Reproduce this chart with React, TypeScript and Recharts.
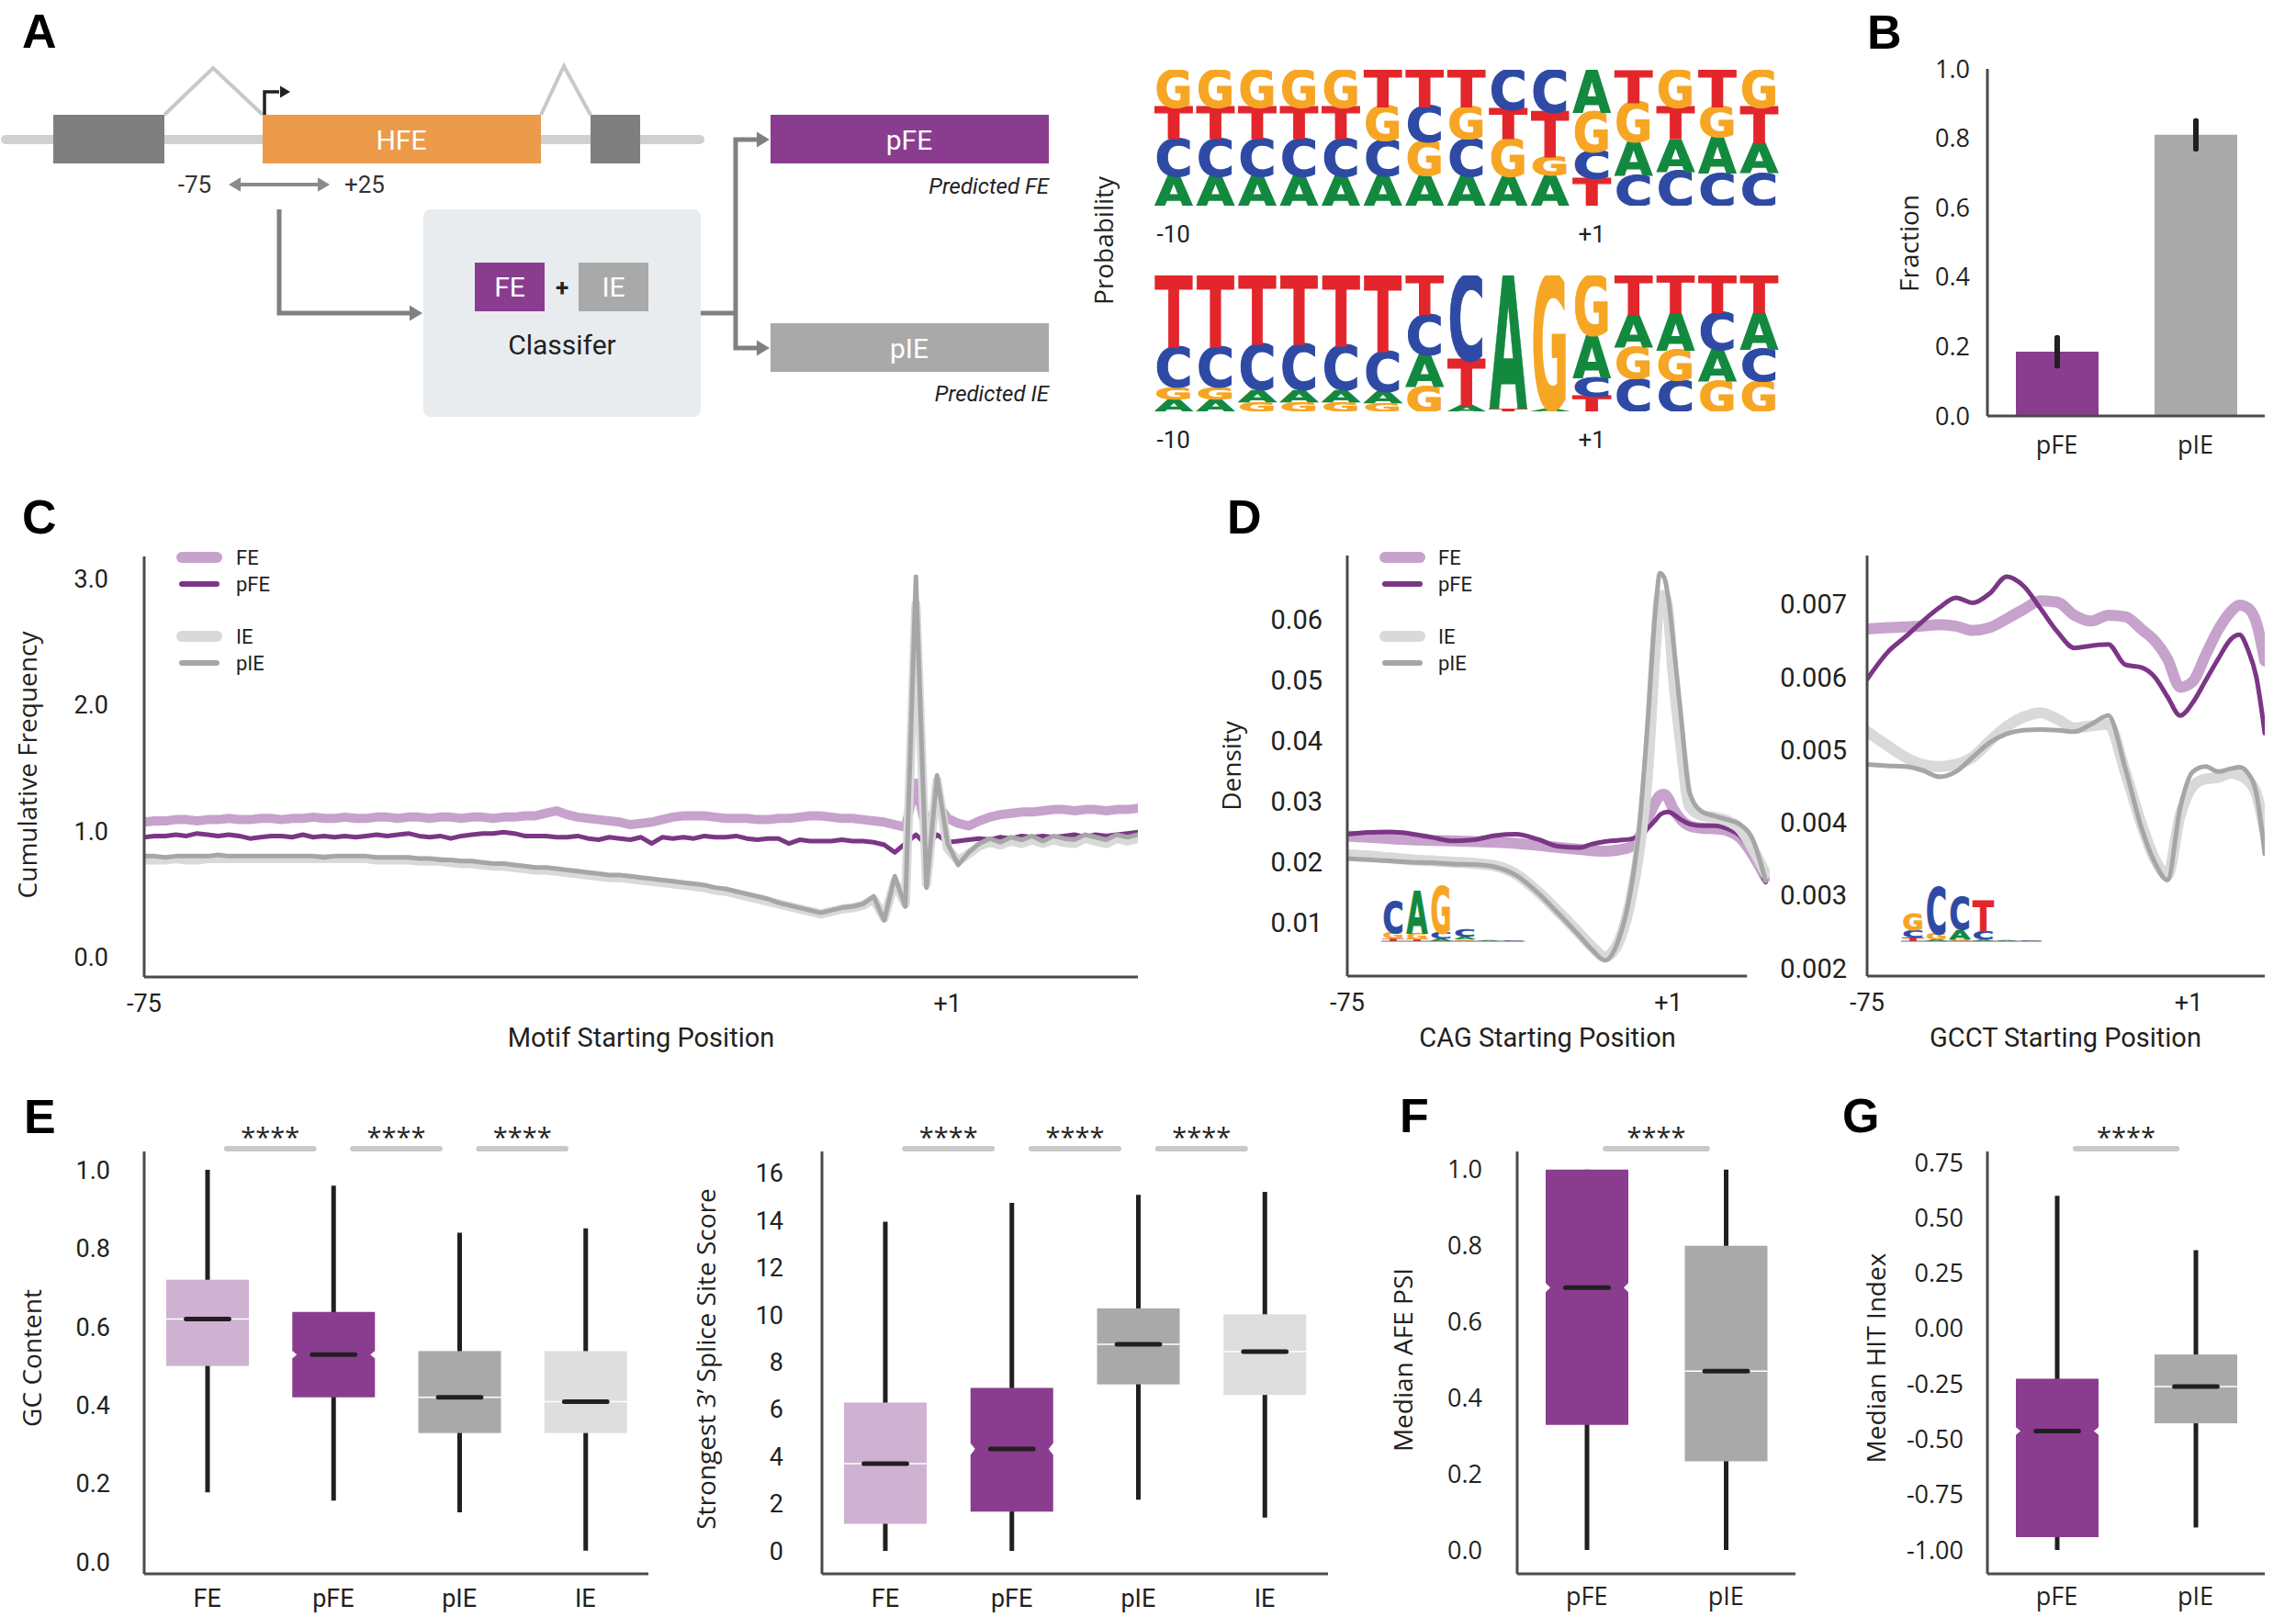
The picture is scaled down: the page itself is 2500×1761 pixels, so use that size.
import React from 'react';
import {
  BarChart, Bar, LineChart, Line, XAxis, YAxis, ErrorBar, Cell, ReferenceLine,
} from 'recharts';

// colours and fonts
const INK = '#231f20';
const AXIS = '#4b4b4b';
const PURPLE = '#8a3d8e';
const LILAC = '#cfb2d2';
const GREY = '#a9a9a9';
const PALE = '#dedede';
const FE_LINE = '#c6a2cc';
const PFE_LINE = '#7b3685';
const IE_LINE = '#d9d9d9';
const PIE_LINE = '#a6a6a6';
const NARROW = "Roboto, 'Liberation Sans', sans-serif";
const SANS = "'Open Sans', 'Noto Sans', sans-serif";
const BOLD = "'Liberation Sans', Arial, sans-serif";
const BASE_COLORS: Record<string, string> = { A: '#13893f', C: '#2f4aa4', G: '#f6a624', T: '#e3262b' };

// ---- A: sequence logos (letters listed top to bottom)
const logoPositions = ['-10', '-9', '-8', '-7', '-6', '-5', '-4', '-3', '-2', '-1', '+1', '+2', '+3', '+4', '+5'];
const feLetters = ['GTCA', 'GTCA', 'GTCA', 'GTCA', 'GTCA', 'TGCA', 'TCGA', 'TGCA', 'CTGA', 'CTGA', 'AGCT', 'TGAC', 'GTAC', 'TGAC', 'GTAC'];
const feProbs = [
  [0.27, 0.24, 0.27, 0.22], [0.27, 0.24, 0.27, 0.22], [0.27, 0.24, 0.27, 0.22], [0.27, 0.24, 0.27, 0.22],
  [0.27, 0.24, 0.27, 0.22], [0.27, 0.25, 0.26, 0.22], [0.27, 0.26, 0.25, 0.22], [0.27, 0.24, 0.27, 0.22],
  [0.29, 0.22, 0.27, 0.22], [0.31, 0.33, 0.14, 0.22], [0.31, 0.29, 0.20, 0.20], [0.24, 0.29, 0.25, 0.22],
  [0.27, 0.24, 0.24, 0.25], [0.27, 0.22, 0.27, 0.24], [0.27, 0.27, 0.22, 0.24],
];
const ieLetters = ['TCGA', 'TCGA', 'TCAG', 'TCAG', 'TCAG', 'TCAG', 'TCAG', 'CTA', 'AT', 'GA', 'GACT', 'TAGC', 'TAGC', 'TCAG', 'TACG'];
const ieProbs = [
  [0.53, 0.29, 0.09, 0.09], [0.53, 0.29, 0.09, 0.09], [0.51, 0.33, 0.09, 0.07], [0.51, 0.33, 0.09, 0.07],
  [0.52, 0.32, 0.09, 0.07], [0.56, 0.29, 0.09, 0.06], [0.29, 0.29, 0.24, 0.18], [0.62, 0.34, 0.04],
  [0.98, 0.02], [0.98, 0.02], [0.44, 0.31, 0.14, 0.11], [0.29, 0.24, 0.23, 0.24],
  [0.28, 0.27, 0.22, 0.23], [0.27, 0.27, 0.24, 0.22], [0.27, 0.27, 0.24, 0.22],
];

// ---- D: small motif insets (bits)
const insetPositions = ['1', '2', '3', '4', '5', '6'];
const cagLetters = ['CGT', 'AGT', 'GCA', 'CAG', 'A', 'C'];
const cagBits = [[1.1, 0.2, 0.1], [1.5, 0.2, 0.08], [1.65, 0.2, 0.1], [0.25, 0.1, 0.05], [0.04], [0.03]];
const gcctLetters = ['GCT', 'CGA', 'CAG', 'TCA', 'A', 'C'];
const gcctBits = [[0.6, 0.27, 0.13], [1.67, 0.2, 0.07], [1.13, 0.33, 0.08], [1.07, 0.3, 0.06], [0.04], [0.03]];

// ---- B
const fractionGroups = ['pFE', 'pIE'];
const fractionValues = [0.185, 0.81];
const fractionErrors = [0.04, 0.04];

// ---- C: cumulative motif frequency, positions -75..+19
const motifPositions = Array.from({ length: 95 }, (_, i) => i - 75);
const cumFE = [
  1.07, 1.08, 1.08, 1.09, 1.09, 1.08, 1.09, 1.09, 1.10, 1.09,
  1.09, 1.10, 1.10, 1.09, 1.10, 1.10, 1.11, 1.10, 1.10, 1.11,
  1.10, 1.10, 1.11, 1.11, 1.10, 1.11, 1.11, 1.10, 1.11, 1.11,
  1.10, 1.11, 1.11, 1.10, 1.11, 1.11, 1.12, 1.12, 1.14, 1.16,
  1.13, 1.11, 1.10, 1.09, 1.08, 1.07, 1.05, 1.06, 1.07, 1.09,
  1.11, 1.12, 1.12, 1.12, 1.11, 1.10, 1.10, 1.10, 1.09, 1.09,
  1.10, 1.10, 1.11, 1.12, 1.12, 1.11, 1.10, 1.10, 1.09, 1.08,
  1.07, 1.05, 1.03, 1.38, 0.99, 1.22, 1.10, 1.06, 1.04, 1.08,
  1.11, 1.13, 1.14, 1.15, 1.15, 1.16, 1.17, 1.17, 1.16, 1.17,
  1.17, 1.16, 1.17, 1.17, 1.18,
];
const cumPFE = [
  0.95, 0.96, 0.96, 0.97, 0.96, 0.98, 0.97, 0.96, 0.97, 0.96,
  0.94, 0.95, 0.96, 0.96, 0.95, 0.97, 0.95, 0.96, 0.95, 0.96,
  0.95, 0.96, 0.97, 0.96, 0.97, 0.98, 0.96, 0.95, 0.96, 0.94,
  0.96, 0.97, 0.98, 0.98, 0.99, 0.98, 0.96, 0.96, 0.96, 0.95,
  0.95, 0.96, 0.94, 0.93, 0.95, 0.94, 0.93, 0.95, 0.90, 0.95,
  0.94, 0.95, 0.94, 0.96, 0.95, 0.95, 0.96, 0.94, 0.93, 0.94,
  0.94, 0.90, 0.93, 0.92, 0.92, 0.92, 0.93, 0.92, 0.92, 0.91,
  0.89, 0.83, 0.90, 0.97, 0.89, 0.97, 0.91, 0.92, 0.93, 0.94,
  0.93, 0.95, 0.94, 0.96, 0.95, 0.96, 0.95, 0.96, 0.97, 0.95,
  0.97, 0.96, 0.97, 0.98, 0.99,
];
const cumIE = [
  0.77, 0.77, 0.77, 0.78, 0.77, 0.77, 0.78, 0.78, 0.78, 0.78,
  0.78, 0.78, 0.78, 0.78, 0.78, 0.78, 0.78, 0.78, 0.78, 0.78,
  0.78, 0.78, 0.77, 0.77, 0.77, 0.77, 0.76, 0.76, 0.76, 0.75,
  0.74, 0.74, 0.73, 0.72, 0.72, 0.71, 0.70, 0.69, 0.69, 0.68,
  0.67, 0.66, 0.65, 0.64, 0.63, 0.63, 0.62, 0.61, 0.60, 0.59,
  0.58, 0.57, 0.56, 0.55, 0.53, 0.52, 0.50, 0.48, 0.46, 0.44,
  0.42, 0.40, 0.38, 0.36, 0.34, 0.36, 0.38, 0.39, 0.41, 0.46,
  0.31, 0.60, 0.42, 2.80, 0.58, 1.40, 0.86, 0.76, 0.82, 0.88,
  0.91, 0.89, 0.92, 0.90, 0.93, 0.90, 0.93, 0.91, 0.90, 0.94,
  0.92, 0.90, 0.94, 0.92, 0.94,
];
const cumPIE = [
  0.80, 0.80, 0.79, 0.80, 0.80, 0.80, 0.80, 0.81, 0.80, 0.80,
  0.80, 0.80, 0.80, 0.80, 0.80, 0.80, 0.80, 0.79, 0.80, 0.80,
  0.80, 0.80, 0.79, 0.79, 0.79, 0.79, 0.78, 0.78, 0.77, 0.77,
  0.76, 0.76, 0.75, 0.74, 0.74, 0.73, 0.72, 0.71, 0.71, 0.70,
  0.69, 0.68, 0.67, 0.66, 0.65, 0.65, 0.64, 0.63, 0.62, 0.61,
  0.60, 0.59, 0.58, 0.57, 0.55, 0.54, 0.52, 0.50, 0.48, 0.46,
  0.43, 0.41, 0.39, 0.37, 0.35, 0.37, 0.39, 0.40, 0.42, 0.48,
  0.29, 0.64, 0.40, 3.02, 0.55, 1.44, 0.90, 0.73, 0.83, 0.90,
  0.94, 0.91, 0.95, 0.93, 0.96, 0.92, 0.96, 0.94, 0.93, 0.97,
  0.95, 0.93, 0.97, 0.95, 0.97,
];

// ---- D: density of CAG / GCCT start positions
const cagPositions = [-75, -70, -65, -60, -55, -50, -45, -40, -35, -30, -25, -20, -17, -14, -11, -8, -6, -4, -2, -1, 0, 1, 2, 4, 6, 9, 12, 15, 18, 21, 24];
const cagFE = [0.0243, 0.0241, 0.0239, 0.0237, 0.0236, 0.0235, 0.0234, 0.0233, 0.0231, 0.0228, 0.0224, 0.0221, 0.0219, 0.0218, 0.0220, 0.0225, 0.0240, 0.0270, 0.0300, 0.0310, 0.0312, 0.0305, 0.0290, 0.0270, 0.0260, 0.0256, 0.0255, 0.0252, 0.0240, 0.0212, 0.0175];
const cagPFE = [0.0246, 0.0249, 0.0250, 0.0247, 0.0241, 0.0235, 0.0237, 0.0244, 0.0246, 0.0238, 0.0226, 0.0224, 0.0230, 0.0234, 0.0236, 0.0238, 0.0243, 0.0255, 0.0270, 0.0278, 0.0282, 0.0283, 0.0280, 0.0270, 0.0263, 0.0260, 0.0260, 0.0255, 0.0243, 0.0212, 0.0167];
const cagIE = [0.0212, 0.0210, 0.0207, 0.0204, 0.0202, 0.0200, 0.0198, 0.0194, 0.0180, 0.0152, 0.0118, 0.0082, 0.0060, 0.0044, 0.0065, 0.0135, 0.0215, 0.0340, 0.0560, 0.0640, 0.0640, 0.0610, 0.0520, 0.0390, 0.0292, 0.0277, 0.0274, 0.0268, 0.0255, 0.0222, 0.0181];
const cagPIE = [0.0206, 0.0204, 0.0202, 0.0200, 0.0199, 0.0197, 0.0196, 0.0192, 0.0178, 0.0150, 0.0115, 0.0078, 0.0055, 0.0038, 0.0068, 0.0150, 0.0250, 0.0420, 0.0620, 0.0677, 0.0670, 0.0635, 0.0575, 0.0440, 0.0315, 0.0283, 0.0276, 0.0270, 0.0262, 0.0237, 0.0169];

const gcctPositions = [-75, -70, -66, -62, -58, -54, -50, -46, -42, -38, -34, -30, -26, -22, -18, -14, -10, -7, -4, -1, 2, 5, 8, 11, 13, 15, 17, 19];
const gcctFE = [0.00666, 0.00668, 0.00669, 0.00670, 0.00672, 0.00670, 0.00664, 0.00668, 0.00680, 0.00693, 0.00705, 0.00703, 0.00685, 0.00677, 0.00685, 0.00683, 0.00665, 0.00650, 0.00625, 0.00586, 0.00594, 0.00630, 0.00665, 0.00690, 0.00699, 0.00695, 0.00675, 0.00622];
const gcctPFE = [0.00597, 0.00635, 0.00655, 0.00676, 0.00695, 0.00709, 0.00702, 0.00715, 0.00738, 0.00725, 0.00694, 0.00662, 0.00640, 0.00643, 0.00645, 0.00617, 0.00613, 0.00600, 0.00573, 0.00547, 0.00565, 0.00595, 0.00625, 0.00652, 0.00658, 0.00638, 0.00600, 0.00523];
const gcctIE = [0.00525, 0.00505, 0.00490, 0.00480, 0.00477, 0.00480, 0.00490, 0.00512, 0.00532, 0.00545, 0.00551, 0.00542, 0.00530, 0.00533, 0.00535, 0.00470, 0.00395, 0.00350, 0.00328, 0.00410, 0.00450, 0.00460, 0.00462, 0.00468, 0.00465, 0.00458, 0.00440, 0.00388];
const gcctPIE = [0.00480, 0.00478, 0.00477, 0.00472, 0.00463, 0.00470, 0.00490, 0.00510, 0.00522, 0.00527, 0.00528, 0.00527, 0.00525, 0.00535, 0.00547, 0.00475, 0.00390, 0.00345, 0.00321, 0.00420, 0.00470, 0.00477, 0.00470, 0.00474, 0.00476, 0.00468, 0.00440, 0.00357];

// ---- E: GC content and 3' splice site score
const exonGroups = ['FE', 'pFE', 'pIE', 'IE'];
const exonColors = [LILAC, PURPLE, GREY, PALE];
const gcLow = [0.178, 0.157, 0.127, 0.029];
const gcQ1 = [0.50, 0.42, 0.329, 0.329];
const gcMedian = [0.62, 0.529, 0.42, 0.409];
const gcQ3 = [0.72, 0.638, 0.538, 0.538];
const gcHigh = [1.0, 0.96, 0.84, 0.851];
const gcNotch = [0, 0.01, 0, 0];

const ssLow = [0, 0, 2.17, 1.41];
const ssQ1 = [1.15, 1.67, 7.06, 6.61];
const ssMedian = [3.70, 4.32, 8.76, 8.45];
const ssQ3 = [6.29, 6.91, 10.28, 10.03];
const ssHigh = [13.95, 14.75, 15.09, 15.22];
const ssNotch = [0, 0.25, 0, 0];

// ---- F, G
const predGroups = ['pFE', 'pIE'];
const predColors = [PURPLE, GREY];
const psiLow = [0, 0];
const psiQ1 = [0.329, 0.233];
const psiMedian = [0.69, 0.47];
const psiQ3 = [1.0, 0.80];
const psiHigh = [1.0, 1.0];
const psiNotch = [0.012, 0];

const hitLow = [-1.0, -0.899];
const hitQ1 = [-0.942, -0.428];
const hitMedian = [-0.463, -0.262];
const hitQ3 = [-0.227, -0.117];
const hitHigh = [0.60, 0.354];
const hitNotch = [0.018, 0];

type Rect = { left: number; top: number; right: number; bottom: number };
const PAD_T = 20;
const PAD_R = 24;
const X_H = 70;
const axisStyle = { stroke: AXIS, strokeWidth: 3 };
const posLabel = (v: number) => (v > 0 ? `+${v}` : `${v}`);
const marginFor = (padT: number) => ({ top: padT, right: PAD_R, left: 0, bottom: 0 });

function Frame({ plot, yWidth, padT = PAD_T, children }: { plot: Rect; yWidth: number; padT?: number; children: (w: number, h: number) => React.ReactNode }) {
  const w = yWidth + plot.right - plot.left + PAD_R;
  const h = padT + plot.bottom - plot.top + X_H;
  return (
    <div style={{ position: 'absolute', left: plot.left - yWidth, top: plot.top - padT, width: w, height: h }}>
      {children(w, h)}
    </div>
  );
}

// one stacked letter, sized so its cap height fills the bar
function Letter(props: any) {
  const { x, y, width, height, letter } = props;
  if (!letter || !(height > 0.3)) return null;
  const color = BASE_COLORS[letter];
  return (
    <text
      x={x + 0.5}
      y={y + height}
      fontSize={height / 0.729}
      fontFamily="'DejaVu Sans', sans-serif"
      fontWeight="bold"
      fill={color}
      stroke={color}
      strokeWidth={Math.min(1.2, height / 20)}
      textLength={Math.max(width - 1, 1)}
      lengthAdjust="spacingAndGlyphs"
    >
      {letter}
    </text>
  );
}

function Logo({ plot, positions, letters, heights, max, labels, baseline, gap }: any) {
  const rows = positions.map((pos: string, i: number) => {
    const row: any = { pos };
    const col: string = letters[i];
    for (let k = 0; k < 4; k++) {
      const idx = col.length - 1 - k;
      row[`h${k}`] = idx >= 0 ? heights[i][idx] : 0;
      row[`l${k}`] = idx >= 0 ? col[idx] : '';
    }
    return row;
  });
  const padT = 60;
  return (
    <Frame plot={plot} yWidth={0} padT={padT}>
      {(w, h) => (
        <BarChart width={w} height={h} data={rows} margin={marginFor(padT)} barCategoryGap={gap}>
          <XAxis
            dataKey="pos" height={X_H} interval={0} tickLine={false} tickSize={0} tickMargin={22}
            axisLine={baseline ? { stroke: '#666', strokeWidth: 1 } : false}
            tickFormatter={(v: string) => (labels.includes(v) ? v : '')}
            tick={{ fontSize: 26, fontFamily: NARROW, fill: INK }}
          />
          <YAxis hide domain={[0, max]} allowDataOverflow />
          {[0, 1, 2, 3].map((k) => (
            <Bar
              key={k} dataKey={`h${k}`} stackId="s" isAnimationActive={false}
              shape={(p: any) => <Letter {...p} letter={p.payload[`l${k}`]} />}
            />
          ))}
        </BarChart>
      )}
    </Frame>
  );
}

function FractionPanel() {
  const plot = { left: 2164, top: 75, right: 2466, bottom: 453 };
  const rows = fractionGroups.map((name, i) => ({ name, value: fractionValues[i], err: fractionErrors[i] }));
  const colors = [PURPLE, GREY];
  return (
    <Frame plot={plot} yWidth={120}>
      {(w, h) => (
        <BarChart width={w} height={h} data={rows} margin={marginFor(PAD_T)}>
          <XAxis dataKey="name" height={X_H} tickLine={false} tickSize={0} tickMargin={22} axisLine={axisStyle} tick={{ fontSize: 27, fontFamily: SANS, fill: INK }} />
          <YAxis
            width={120} type="number" domain={[0, 1]} ticks={[0, 0.2, 0.4, 0.6, 0.8, 1]} interval={0}
            tickFormatter={(v: number) => v.toFixed(1)} tickLine={false} tickSize={0} tickMargin={19}
            axisLine={axisStyle} tick={{ fontSize: 27, fontFamily: SANS, fill: INK }}
          />
          <Bar dataKey="value" barSize={90} isAnimationActive={false}>
            {rows.map((r, i) => <Cell key={r.name} fill={colors[i]} />)}
            <ErrorBar dataKey="err" direction="y" width={0} stroke={INK} strokeWidth={6} strokeLinecap="round" />
          </Bar>
        </BarChart>
      )}
    </Frame>
  );
}

function ProfilePanel({ plot, rows, yDomain, yTicks, yDigits, yGap, yFont, xDomain, axisEnd, curve, thick }: any) {
  return (
    <Frame plot={plot} yWidth={140}>
      {(w, h) => (
        <LineChart width={w} height={h} data={rows} margin={marginFor(PAD_T)}>
          <XAxis
            type="number" dataKey="pos" domain={xDomain} ticks={[-75, 1]} interval={0} tickFormatter={posLabel}
            allowDataOverflow height={X_H} tickLine={false} tickSize={0} tickMargin={19}
            axisLine={axisEnd === undefined ? axisStyle : false} tick={{ fontSize: 27, fontFamily: NARROW, fill: INK }}
          />
          <YAxis
            width={140} type="number" domain={yDomain} ticks={yTicks} interval={0}
            tickFormatter={(v: number) => v.toFixed(yDigits)} allowDataOverflow tickLine={false} tickSize={0}
            tickMargin={yGap} axisLine={axisStyle} tick={{ fontSize: yFont, fontFamily: NARROW, fill: INK }}
          />
          {axisEnd !== undefined && (
            <ReferenceLine segment={[{ x: xDomain[0], y: yDomain[0] }, { x: axisEnd, y: yDomain[0] }]} stroke={AXIS} strokeWidth={3} />
          )}
          <Line dataKey="fe" type={curve} stroke={FE_LINE} strokeWidth={thick} dot={false} isAnimationActive={false} strokeLinejoin="round" strokeLinecap="round" />
          <Line dataKey="pfe" type={curve} stroke={PFE_LINE} strokeWidth={5} dot={false} isAnimationActive={false} strokeLinejoin="round" strokeLinecap="round" />
          <Line dataKey="ie" type={curve} stroke={IE_LINE} strokeWidth={thick} dot={false} isAnimationActive={false} strokeLinejoin="round" strokeLinecap="round" />
          <Line dataKey="pie" type={curve} stroke={PIE_LINE} strokeWidth={5} dot={false} isAnimationActive={false} strokeLinejoin="round" strokeLinecap="round" />
        </LineChart>
      )}
    </Frame>
  );
}

function BoxShape(props: any) {
  const { x, y, width, height, payload } = props;
  const top = Math.min(y, y + height);
  const span = Math.abs(height);
  const { low, high, q1, median, q3, notch, color } = payload;
  const toY = (v: number) => top + (span * (high - v)) / (high - low);
  const cx = x + width / 2;
  const l = x;
  const r = x + width;
  const yq1 = toY(q1);
  const yq3 = toY(q3);
  const ym = toY(median);
  const half = width * 0.26;
  let body;
  if (notch > 0) {
    const nt = toY(median + notch);
    const nb = toY(median - notch);
    const d = 5;
    body = (
      <polygon
        points={`${l},${yq3} ${r},${yq3} ${r},${nt} ${r - d},${ym} ${r},${nb} ${r},${yq1} ${l},${yq1} ${l},${nb} ${l + d},${ym} ${l},${nt}`}
        fill={color}
      />
    );
  } else {
    body = (
      <g>
        <rect x={l} y={yq3} width={width} height={yq1 - yq3} fill={color} />
        <line x1={l} x2={r} y1={ym} y2={ym} stroke="#fff" strokeWidth={1.5} />
      </g>
    );
  }
  return (
    <g>
      <line x1={cx} x2={cx} y1={toY(high)} y2={toY(low)} stroke={INK} strokeWidth={5} />
      {body}
      <line x1={cx - half} x2={cx + half} y1={ym} y2={ym} stroke={INK} strokeWidth={5} strokeLinecap="round" />
    </g>
  );
}

function BoxPanel({ plot, groups, colors, low, q1, median, q3, high, notch, yDomain, yTicks, yFmt, yGap, font, xGap }: any) {
  const rows = groups.map((name: string, i: number) => ({
    name, range: [low[i], high[i]], low: low[i], q1: q1[i], median: median[i], q3: q3[i], high: high[i], notch: notch[i], color: colors[i],
  }));
  return (
    <Frame plot={plot} yWidth={140}>
      {(w, h) => (
        <BarChart width={w} height={h} data={rows} margin={marginFor(PAD_T)}>
          <XAxis dataKey="name" height={X_H} tickLine={false} tickSize={0} tickMargin={xGap} axisLine={axisStyle} tick={{ fontSize: 27, fontFamily: font, fill: INK }} />
          <YAxis
            width={140} type="number" domain={yDomain} ticks={yTicks} tickFormatter={yFmt} allowDataOverflow interval={0}
            tickLine={false} tickSize={0} tickMargin={yGap} axisLine={axisStyle} tick={{ fontSize: 27, fontFamily: font, fill: INK }}
          />
          <Bar dataKey="range" barSize={90} shape={BoxShape} isAnimationActive={false} />
        </BarChart>
      )}
    </Frame>
  );
}

function VText({ x, y, children, size = 28 }: any) {
  return (
    <text transform={`translate(${x},${y}) rotate(-90)`} textAnchor="middle" fontFamily={SANS} fontSize={size} fill={INK}>
      {children}
    </text>
  );
}

function Sig({ plot, count, frac }: { plot: Rect; count: number; frac: number }) {
  const band = (plot.right - plot.left) / count;
  const items = [];
  for (let i = 0; i < count - 1; i++) {
    const cx = plot.left + band * (i + 1);
    items.push(
      <g key={i}>
        <line x1={cx - (band * frac) / 2} x2={cx + (band * frac) / 2} y1={1251} y2={1251} stroke="#c9c9c9" strokeWidth={6} strokeLinecap="round" />
        <text x={cx} y={1249} textAnchor="middle" fontFamily={SANS} fontSize={29} fill={INK}>****</text>
      </g>,
    );
  }
  return <g>{items}</g>;
}

function Legend({ x, labelX }: { x: number; labelX: number }) {
  const items = [
    { label: 'FE', y: 607, color: FE_LINE, w: 12 },
    { label: 'pFE', y: 636, color: PFE_LINE, w: 6 },
    { label: 'IE', y: 693, color: IE_LINE, w: 12 },
    { label: 'pIE', y: 722, color: PIE_LINE, w: 6 },
  ];
  return (
    <g>
      {items.map((it) => (
        <g key={it.label}>
          <line x1={x} x2={x + 38} y1={it.y} y2={it.y} stroke={it.color} strokeWidth={it.w} strokeLinecap="round" />
          <text x={labelX} y={it.y + 8} fontFamily={NARROW} fontSize={22} fill={INK}>{it.label}</text>
        </g>
      ))}
    </g>
  );
}

const arrowR = (x: number, y: number, s = 12) => `${x - s},${y - s * 0.6} ${x},${y} ${x - s},${y + s * 0.6}`;
const arrowL = (x: number, y: number, s = 12) => `${x + s},${y - s * 0.6} ${x},${y} ${x + s},${y + s * 0.6}`;

function Overlay() {
  const ePlotL = { left: 157, top: 1254, right: 706, bottom: 1714 };
  const ePlotR = { left: 895, top: 1254, right: 1446, bottom: 1714 };
  const fPlot = { left: 1652, top: 1254, right: 1955, bottom: 1714 };
  const gPlot = { left: 2164, top: 1254, right: 2466, bottom: 1714 };
  return (
    <svg width={2500} height={1761} style={{ position: 'absolute', left: 0, top: 0 }}>
      <g fontFamily={BOLD} fontWeight="bold" fontSize={52} fill="#000">
        <text x={24} y={52}>A</text>
        <text x={2033} y={53}>B</text>
        <text x={24} y={581}>C</text>
        <text x={1336} y={581}>D</text>
        <text x={26} y={1234}>E</text>
        <text x={1524} y={1233}>F</text>
        <text x={2006} y={1233}>G</text>
      </g>

      {/* gene model */}
      <line x1={6} x2={762} y1={152} y2={152} stroke="#d0d0d0" strokeWidth={10} strokeLinecap="round" />
      <polyline points="179,125 232,74 286,125" fill="none" stroke="#c8c8c8" strokeWidth={4} />
      <polyline points="589,125 614,72 643,125" fill="none" stroke="#c8c8c8" strokeWidth={4} />
      <rect x={58} y={125} width={121} height={53} fill="#7f7f7f" />
      <rect x={286} y={125} width={303} height={53} fill="#eb9b4a" />
      <rect x={643} y={125} width={54} height={53} fill="#7f7f7f" />
      <text x={437} y={163} textAnchor="middle" fontFamily={NARROW} fontSize={30} fill="#fff">HFE</text>
      <polyline points="288,125 288,100 304,100" fill="none" stroke="#222" strokeWidth={3.5} />
      <polygon points={arrowR(316, 100, 11)} fill="#222" />
      <text x={212} y={210} textAnchor="middle" fontFamily={NARROW} fontSize={26} fill="#333">-75</text>
      <text x={397} y={210} textAnchor="middle" fontFamily={NARROW} fontSize={26} fill="#333">+25</text>
      <line x1={258} x2={350} y1={201} y2={201} stroke="#8a8a8a" strokeWidth={4} />
      <polygon points={arrowL(249, 201, 13)} fill="#8a8a8a" />
      <polygon points={arrowR(359, 201, 13)} fill="#8a8a8a" />

      {/* classifier */}
      <polyline points="304,228 304,341 448,341" fill="none" stroke="#808080" strokeWidth={5} />
      <polygon points={arrowR(460, 341, 14)} fill="#808080" />
      <rect x={461} y={228} width={302} height={226} rx={8} fill="#e8ecef" />
      <rect x={517} y={286} width={76} height={53} fill={PURPLE} />
      <rect x={630} y={286} width={76} height={53} fill={GREY} />
      <text x={555} y={323} textAnchor="middle" fontFamily={NARROW} fontSize={30} fill="#fff">FE</text>
      <text x={668} y={323} textAnchor="middle" fontFamily={NARROW} fontSize={30} fill="#fff">IE</text>
      <text x={612} y={322} textAnchor="middle" fontFamily={NARROW} fontWeight="bold" fontSize={26} fill="#222">+</text>
      <text x={612} y={386} textAnchor="middle" fontFamily={NARROW} fontSize={30} fill="#222">Classifer</text>
      <polyline points="763,341 801,341" fill="none" stroke="#808080" strokeWidth={5} />
      <polyline points="826,152 801,152 801,379 826,379" fill="none" stroke="#808080" strokeWidth={5} />
      <polygon points={arrowR(838, 152, 14)} fill="#808080" />
      <polygon points={arrowR(838, 379, 14)} fill="#808080" />
      <rect x={839} y={125} width={303} height={53} fill={PURPLE} />
      <rect x={839} y={352} width={303} height={53} fill={GREY} />
      <text x={990} y={163} textAnchor="middle" fontFamily={NARROW} fontSize={30} fill="#fff">pFE</text>
      <text x={990} y={390} textAnchor="middle" fontFamily={NARROW} fontSize={30} fill="#fff">pIE</text>
      <text x={1142} y={211} textAnchor="end" fontFamily={NARROW} fontStyle="italic" fontSize={24} fill="#222">Predicted FE</text>
      <text x={1142} y={437} textAnchor="end" fontFamily={NARROW} fontStyle="italic" fontSize={24} fill="#222">Predicted IE</text>

      {/* axis titles */}
      <VText x={1212} y={262}>Probability</VText>
      <VText x={2089} y={265}>Fraction</VText>
      <VText x={40} y={833}>Cumulative Frequency</VText>
      <VText x={1351} y={834}>Density</VText>
      <VText x={45} y={1479}>GC Content</VText>
      <VText x={779} y={1480}>Strongest 3’ Splice Site Score</VText>
      <VText x={1538} y={1481}>Median AFE PSI</VText>
      <VText x={2053} y={1479}>Median HIT Index</VText>
      <g fontFamily={NARROW} fontSize={29} fill={INK} textAnchor="middle">
        <text x={698} y={1140}>Motif Starting Position</text>
        <text x={1685} y={1140}>CAG Starting Position</text>
        <text x={2249} y={1140}>GCCT Starting Position</text>
      </g>

      <Legend x={198} labelX={257} />
      <Legend x={1508} labelX={1566} />

      <Sig plot={ePlotL} count={4} frac={0.69} />
      <Sig plot={ePlotR} count={4} frac={0.69} />
      <Sig plot={fPlot} count={2} frac={0.73} />
      <Sig plot={gPlot} count={2} frac={0.73} />
    </svg>
  );
}

export default function App() {
  const cRows = motifPositions.map((pos, i) => ({ pos, fe: cumFE[i], pfe: cumPFE[i], ie: cumIE[i], pie: cumPIE[i] }));
  const cagRows = cagPositions.map((pos, i) => ({ pos, fe: cagFE[i], pfe: cagPFE[i], ie: cagIE[i], pie: cagPIE[i] }));
  const gcctRows = gcctPositions.map((pos, i) => ({ pos, fe: gcctFE[i], pfe: gcctPFE[i], ie: gcctIE[i], pie: gcctPIE[i] }));

  return (
    <div style={{ position: 'absolute', left: 0, top: 0, width: 2500, height: 1761, background: '#fff', overflow: 'hidden' }}>
      <Logo plot={{ left: 1255, top: 76, right: 1938, bottom: 224 }} positions={logoPositions} letters={feLetters} heights={feProbs} max={1} labels={['-10', '+1']} gap={2} />
      <Logo plot={{ left: 1255, top: 300, right: 1938, bottom: 448 }} positions={logoPositions} letters={ieLetters} heights={ieProbs} max={1} labels={['-10', '+1']} gap={2} />

      <FractionPanel />

      <ProfilePanel
        plot={{ left: 157, top: 606, right: 1239, bottom: 1064 }} rows={cRows}
        yDomain={[-0.16, 3.18]} yTicks={[0, 1, 2, 3]} yDigits={1} yGap={39} yFont={27}
        xDomain={[-75, 19]} curve="linear" thick={10}
      />
      <ProfilePanel
        plot={{ left: 1467, top: 605, right: 1927, bottom: 1063 }} rows={cagRows}
        yDomain={[0.0012, 0.0706]} yTicks={[0.01, 0.02, 0.03, 0.04, 0.05, 0.06]} yDigits={2} yGap={27} yFont={29}
        xDomain={[-75, 25]} axisEnd={19.6} curve="monotone" thick={12}
      />
      <ProfilePanel
        plot={{ left: 2033, top: 605, right: 2466, bottom: 1063 }} rows={gcctRows}
        yDomain={[0.00189, 0.00767]} yTicks={[0.002, 0.003, 0.004, 0.005, 0.006, 0.007]} yDigits={3} yGap={22} yFont={29}
        xDomain={[-75, 19]} curve="monotone" thick={12}
      />
      <Logo plot={{ left: 1504, top: 964, right: 1660, bottom: 1025 }} positions={insetPositions} letters={cagLetters} heights={cagBits} max={2} labels={[]} baseline gap={1} />
      <Logo plot={{ left: 2070, top: 964, right: 2223, bottom: 1025 }} positions={insetPositions} letters={gcctLetters} heights={gcctBits} max={2} labels={[]} baseline gap={1} />

      <BoxPanel
        plot={{ left: 157, top: 1254, right: 706, bottom: 1714 }} groups={exonGroups} colors={exonColors}
        low={gcLow} q1={gcQ1} median={gcMedian} q3={gcQ3} high={gcHigh} notch={gcNotch}
        yDomain={[-0.03, 1.047]} yTicks={[0, 0.2, 0.4, 0.6, 0.8, 1]} yFmt={(v: number) => v.toFixed(1)} yGap={37} font={NARROW} xGap={17}
      />
      <BoxPanel
        plot={{ left: 895, top: 1254, right: 1446, bottom: 1714 }} groups={exonGroups} colors={exonColors}
        low={ssLow} q1={ssQ1} median={ssMedian} q3={ssQ3} high={ssHigh} notch={ssNotch}
        yDomain={[-0.97, 16.93]} yTicks={[0, 2, 4, 6, 8, 10, 12, 14, 16]} yFmt={(v: number) => `${v}`} yGap={42} font={NARROW} xGap={17}
      />
      <BoxPanel
        plot={{ left: 1652, top: 1254, right: 1955, bottom: 1714 }} groups={predGroups} colors={predColors}
        low={psiLow} q1={psiQ1} median={psiMedian} q3={psiQ3} high={psiHigh} notch={psiNotch}
        yDomain={[-0.063, 1.048]} yTicks={[0, 0.2, 0.4, 0.6, 0.8, 1]} yFmt={(v: number) => v.toFixed(1)} yGap={38} font={SANS} xGap={15}
      />
      <BoxPanel
        plot={{ left: 2164, top: 1254, right: 2466, bottom: 1714 }} groups={predGroups} colors={predColors}
        low={hitLow} q1={hitQ1} median={hitMedian} q3={hitQ3} high={hitHigh} notch={hitNotch}
        yDomain={[-1.108, 0.8]} yTicks={[-1, -0.75, -0.5, -0.25, 0, 0.25, 0.5, 0.75]} yFmt={(v: number) => v.toFixed(2)} yGap={26} font={SANS} xGap={15}
      />

      <Overlay />
    </div>
  );
}
